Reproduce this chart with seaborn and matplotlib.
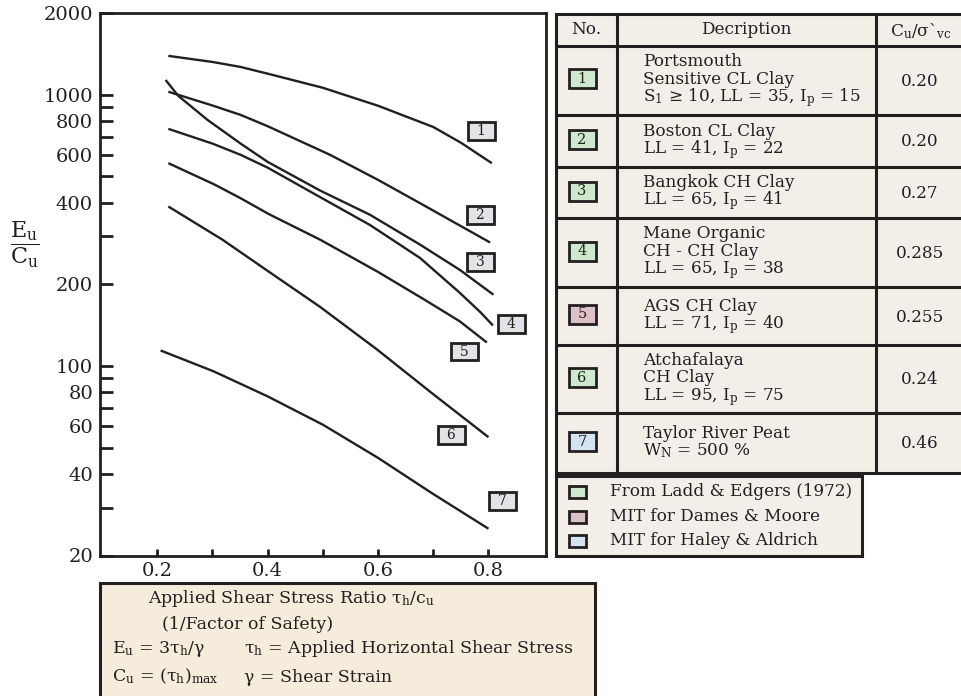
import numpy as np
import pandas as pd
import matplotlib
matplotlib.use("Agg")
import matplotlib.pyplot as plt
import matplotlib.patches as mpatches
from matplotlib.ticker import FixedLocator, FixedFormatter, NullFormatter
import seaborn as sns

# ---------------- data ----------------
curve_ids = ["1", "2", "3", "4", "5", "6", "7"]

c1_x = [0.22, 0.30, 0.351, 0.40, 0.50, 0.60, 0.70, 0.75, 0.806]
c1_y = [1390, 1320, 1265, 1195, 1060, 910, 760, 665, 559]

c2_x = [0.22, 0.30, 0.351, 0.40, 0.513, 0.60, 0.676, 0.803]
c2_y = [1025, 912, 842, 765, 600, 485, 398, 285]

c3_x = [0.215, 0.238, 0.291, 0.351, 0.40, 0.495, 0.585, 0.676, 0.748, 0.809]
c3_y = [1133, 990, 807, 660, 565, 443, 361, 280, 226, 183]

c4_x = [0.22, 0.30, 0.351, 0.40, 0.495, 0.585, 0.676, 0.748, 0.785, 0.808]
c4_y = [748, 660, 600, 538, 419, 331, 250, 186, 158, 141]

c5_x = [0.22, 0.303, 0.351, 0.403, 0.495, 0.60, 0.685, 0.748, 0.797]
c5_y = [559, 467, 415, 362, 292, 222, 175, 146, 122]

c6_x = [0.22, 0.318, 0.40, 0.495, 0.598, 0.697, 0.80]
c6_y = [387, 292, 224, 165, 115, 79.5, 54.6]

c7_x = [0.206, 0.302, 0.40, 0.50, 0.60, 0.697, 0.80]
c7_y = [114, 95.5, 77.2, 60.7, 45.8, 34.0, 25.1]

label_x = [0.788, 0.785, 0.785, 0.842, 0.757, 0.733, 0.826]
label_y = [735, 361, 241, 143, 113, 55.5, 31.7]

x_ticks = [0.2, 0.4, 0.6, 0.8]
x_minor = [0.3, 0.5, 0.7]
y_ticks = [20, 40, 60, 80, 100, 200, 400, 600, 800, 1000, 2000]
y_minor = [30, 50, 70, 90, 300, 500, 700, 900]

table_no = ["1", "2", "3", "4", "5", "6", "7"]
table_desc = [
    ["Portsmouth", "Sensitive CL Clay", r"S$_\mathrm{1}$ ≥ 10, LL = 35, I$_\mathrm{p}$ = 15"],
    ["Boston CL Clay", r"LL = 41, I$_\mathrm{p}$ = 22"],
    ["Bangkok CH Clay", r"LL = 65, I$_\mathrm{p}$ = 41"],
    ["Mane Organic", "CH - CH Clay", r"LL = 65, I$_\mathrm{p}$ = 38"],
    ["AGS CH Clay", r"LL = 71, I$_\mathrm{p}$ = 40"],
    ["Atchafalaya", "CH Clay", r"LL = 95, I$_\mathrm{p}$ = 75"],
    ["Taylor River Peat", r"W$_\mathrm{N}$ = 500 %"],
]
table_ratio = ["0.20", "0.20", "0.27", "0.285", "0.255", "0.24", "0.46"]
table_src = [0, 0, 0, 0, 1, 0, 2]
source_labels = ["From Ladd & Edgers (1972)", "MIT for Dames & Moore", "MIT for Haley & Aldrich"]
source_colors = ["#cde8cc", "#dcc2c6", "#d3e3ef"]

# ---------------- style ----------------
sns.set_style("white")
plt.rcParams["font.family"] = ["DejaVu Serif", "Liberation Serif"]
plt.rcParams["mathtext.fontset"] = "dejavuserif"

INK = "#231f20"
TABLE_BG = "#f4eee8"
BOX_BG = "#f6ecdc"
LABEL_BG = "#e2e3e7"

W, H = 961, 696
fig = plt.figure(figsize=(W / 100, H / 100), dpi=100)
fig.patch.set_facecolor("white")

# overlay axes in pixel coordinates for table / boxes
ov = fig.add_axes([0, 0, 1, 1], zorder=0)
ov.set_xlim(0, W)
ov.set_ylim(H, 0)
ov.axis("off")

ax = fig.add_axes([100 / W, 1 - 555.5 / H, 446 / W, 542.5 / H], zorder=1)

# ---------------- curves ----------------
all_x = [c1_x, c2_x, c3_x, c4_x, c5_x, c6_x, c7_x]
all_y = [c1_y, c2_y, c3_y, c4_y, c5_y, c6_y, c7_y]
frames = [pd.DataFrame({"ratio": xs, "EuCu": ys, "curve": cid})
          for cid, xs, ys in zip(curve_ids, all_x, all_y)]
df = pd.concat(frames, ignore_index=True)

sns.lineplot(data=df, x="ratio", y="EuCu", hue="curve", estimator=None, sort=False,
             palette={c: INK for c in curve_ids}, linewidth=1.7, legend=False, ax=ax)
for ln in ax.lines:
    ln.set_solid_joinstyle("round")
    ln.set_solid_capstyle("butt")

ax.set_yscale("log")
ax.set_xlim(0.0962, 0.9042)
ax.set_ylim(20, 2000)

ax.xaxis.set_major_locator(FixedLocator(x_ticks))
ax.xaxis.set_major_formatter(FixedFormatter([f"{t:.1f}" for t in x_ticks]))
ax.xaxis.set_minor_locator(FixedLocator(x_minor))
ax.xaxis.set_minor_formatter(NullFormatter())
ax.yaxis.set_major_locator(FixedLocator(y_ticks))
ax.yaxis.set_major_formatter(FixedFormatter([str(t) for t in y_ticks]))
ax.yaxis.set_minor_locator(FixedLocator(y_minor))
ax.yaxis.set_minor_formatter(NullFormatter())

ax.tick_params(axis="y", which="both", direction="in", length=9, width=2,
               color=INK, labelsize=14, pad=5, labelcolor=INK, left=True)
ax.tick_params(axis="x", which="both", direction="in", length=5, width=2,
               color=INK, labelsize=14, pad=5, labelcolor=INK, bottom=True)
for s in ax.spines.values():
    s.set_visible(True)
    s.set_color(INK)
    s.set_linewidth(2.0)

ax.set_xlabel("")
ax.set_ylabel(r"$\dfrac{\mathrm{E_u}}{\mathrm{C_u}}$", rotation=0, fontsize=16, color=INK,
              va="center", ha="center")
ax.yaxis.set_label_coords(-0.168, 0.572)

for lab, lx, ly in zip(curve_ids, label_x, label_y):
    ax.text(lx, ly, "\u2002" + lab + "\u2002", ha="center", va="center", fontsize=10, color=INK,
            bbox=dict(boxstyle="square,pad=0.14", fc=LABEL_BG, ec=INK, lw=2.0))

# ---------------- table ----------------
T_L, T_R, T_T, T_B = 556, 968, 14, 473
col_x = [617, 876]
row_y = [45.7, 115, 167, 218, 287, 345, 413, 473]
LW = 2.2
FS = 12.2

ov.add_patch(mpatches.Rectangle((T_L, T_T), T_R - T_L, T_B - T_T, fc=TABLE_BG, ec=INK, lw=LW))
ov.vlines(col_x, T_T, T_B, color=INK, lw=LW)
ov.hlines(row_y[:-1], T_L, T_R, color=INK, lw=LW)

ov.text(586, 30, "No.", ha="center", va="center", fontsize=FS, color=INK)
ov.text(746, 30, "Decription", ha="center", va="center", fontsize=FS, color=INK)
ov.text(921, 31, r"C$_\mathrm{u}$/σ`$_\mathrm{vc}$", ha="center", va="center", fontsize=FS, color=INK)

for i in range(len(table_no)):
    top, bot = row_y[i], row_y[i + 1]
    cy = (top + bot) / 2
    ov.add_patch(mpatches.Rectangle((568.5, cy - 11), 27, 19, fc=source_colors[table_src[i]],
                                    ec=INK, lw=2.0))
    ov.text(582, cy - 1.5, table_no[i], ha="center", va="center", fontsize=10.5, color=INK)
    lines = table_desc[i]
    n = len(lines)
    for j, line in enumerate(lines):
        by = cy + 3.5 + (j - (n - 1) / 2) * 17.5
        ov.text(643, by, line, ha="left", va="baseline", fontsize=FS, color=INK)
    ov.text(920, cy + 1, table_ratio[i], ha="center", va="center", fontsize=FS, color=INK)

# legend box
ov.add_patch(mpatches.Rectangle((556, 476), 306, 80, fc=TABLE_BG, ec=INK, lw=LW))
leg_y = [491.7, 516.7, 540.7]
for lab, col, yy in zip(source_labels, source_colors, leg_y):
    ov.add_patch(mpatches.Rectangle((568.5, yy - 6), 17, 12, fc=col, ec=INK, lw=2.0))
    ov.text(610, yy, lab, ha="left", va="center", fontsize=FS, color=INK)

# ---------------- bottom box ----------------
BFS = 12.5
ov.add_patch(mpatches.Rectangle((100, 583), 495, 116, fc=BOX_BG, ec=INK, lw=LW))
ov.text(148, 603.3, r"Applied Shear Stress Ratio τ$_\mathrm{h}$/c$_\mathrm{u}$",
        ha="left", va="baseline", fontsize=BFS, color=INK)
ov.text(162, 629, "(1/Factor of Safety)", ha="left", va="baseline", fontsize=BFS, color=INK)
ov.text(112, 653.3, r"E$_\mathrm{u}$ = 3τ$_\mathrm{h}$/γ", ha="left", va="baseline",
        fontsize=BFS, color=INK)
ov.text(244, 653.3, r"τ$_\mathrm{h}$ = Applied Horizontal Shear Stress", ha="left",
        va="baseline", fontsize=BFS, color=INK)
ov.text(112, 681.7, r"C$_\mathrm{u}$ = (τ$_\mathrm{h}$)$_\mathrm{max}$", ha="left",
        va="baseline", fontsize=BFS, color=INK)
ov.text(244, 681.7, "γ = Shear Strain", ha="left", va="baseline", fontsize=BFS, color=INK)

fig.savefig("out.png", dpi=100, facecolor="white")
